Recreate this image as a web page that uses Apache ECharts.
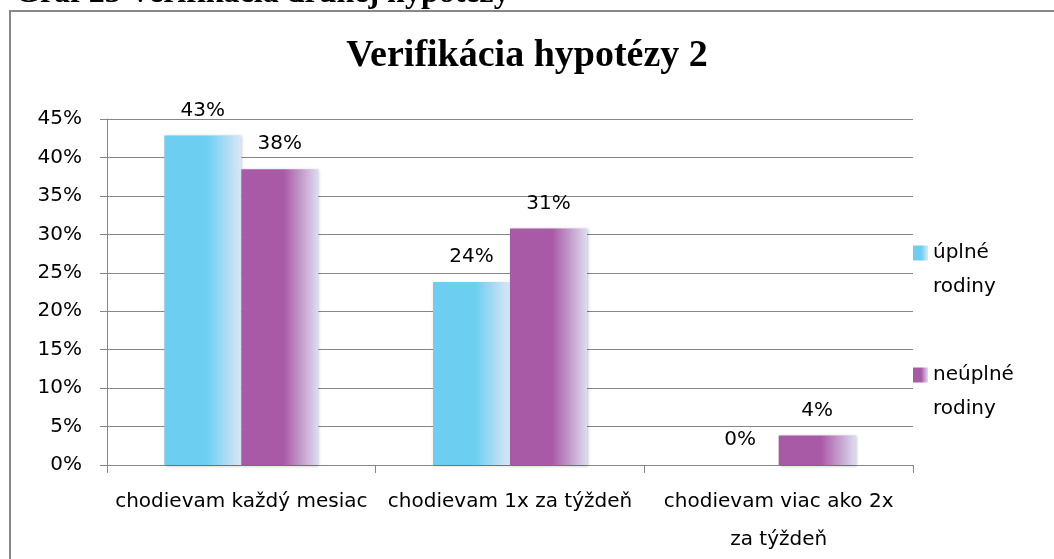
<!DOCTYPE html>
<html>
<head>
<meta charset="utf-8">
<script src="https://cdn.jsdelivr.net/npm/echarts@6/dist/echarts.min.js"></script>
<style>
html, body { margin: 0; padding: 0; background: #fff; }
#chart { width: 1054px; height: 559px; }
</style>
</head>
<body>
<div id="chart"></div>
<script>
var categories = ['chodievam každý mesiac', 'chodievam 1x za týždeň', 'chodievam viac ako 2x za týždeň'];
var seriesNames = ['úplné rodiny', 'neúplné rodiny'];
var fullFamilies = [42.86, 23.81, 0];
var singleFamilies = [38.46, 30.77, 3.85];
var yTicks = { min: 0, max: 45, step: 5 };

var labelFont = 'DejaVu Sans';
var gridColor = '#868686';

function fade(base, light) {
    return new echarts.graphic.LinearGradient(0, 0, 1, 0, [
        { offset: 0, color: base },
        { offset: 0.55, color: base },
        { offset: 1, color: light }
    ]);
}

function barSeries(name, values, base, light) {
    return {
        name: name,
        type: 'bar',
        data: values,
        barWidth: 77,
        barGap: '0%',
        itemStyle: {
            color: fade(base, light),
            shadowColor: 'rgba(0,0,0,0.25)',
            shadowBlur: 3,
            shadowOffsetX: 1,
            shadowOffsetY: 1
        },
        label: {
            show: true,
            position: 'top',
            distance: 15,
            color: '#000',
            fontFamily: labelFont,
            fontSize: 20,
            formatter: function (p) { return Math.round(p.value) + '%'; }
        }
    };
}

var chart = echarts.init(document.getElementById('chart'), null, { renderer: 'canvas' });
var option = {
    animation: false,
    backgroundColor: '#fff',
    graphic: [
        {
            type: 'text',
            left: 15,
            top: -22,
            style: {
                text: 'Graf 23 Verifikácia druhej hypotézy',
                font: 'bold 32px "Liberation Serif"',
                fill: '#000'
            }
        },
        {
            type: 'rect',
            shape: { x: 10, y: 11, width: 1100, height: 600 },
            style: { fill: 'none', stroke: '#888', lineWidth: 2 }
        }
    ],
    title: {
        text: 'Verifikácia hypotézy 2',
        left: 'center',
        top: 37,
        padding: 0,
        textStyle: {
            fontFamily: 'Liberation Serif',
            fontWeight: 'bold',
            fontSize: 38,
            color: '#000'
        }
    },
    legend: {
        orient: 'vertical',
        left: 913,
        top: 202,
        padding: 0,
        icon: 'rect',
        itemWidth: 15,
        itemHeight: 15,
        itemGap: 20,
        data: seriesNames,
        // blank first line keeps the marker level with the first word
        formatter: function (name) { return '\n' + name.replace(' ', '\n'); },
        textStyle: {
            fontFamily: labelFont,
            fontSize: 20,
            color: '#000',
            lineHeight: 34
        }
    },
    grid: {
        left: 107,
        right: 141,
        top: 119,
        bottom: 89,
        containLabel: false
    },
    xAxis: {
        type: 'category',
        data: categories,
        axisLine: { lineStyle: { color: gridColor, width: 1 } },
        axisTick: { show: true, length: 8, lineStyle: { color: gridColor } },
        axisLabel: {
            interval: 0,
            margin: 18,
            color: '#000',
            fontFamily: labelFont,
            fontSize: 20,
            lineHeight: 38,
            formatter: function (v) {
                return v.length > 24 ? v.replace(/ (za týždeň)$/, '\n$1') : v;
            }
        }
    },
    yAxis: {
        type: 'value',
        min: yTicks.min,
        max: yTicks.max,
        interval: yTicks.step,
        axisLine: { show: true, lineStyle: { color: gridColor, width: 1 } },
        axisTick: { show: true, length: 7, lineStyle: { color: gridColor } },
        splitLine: { show: true, lineStyle: { color: gridColor, width: 1 } },
        axisLabel: {
            margin: 25,
            color: '#000',
            fontFamily: labelFont,
            fontSize: 20,
            formatter: function (v) { return v + '%'; }
        }
    },
    series: [
        barSeries(seriesNames[0], fullFamilies, '#6CCFF1', '#DCE6F4'),
        barSeries(seriesNames[1], singleFamilies, '#A95AA7', '#DCDCEF')
    ]
};
chart.setOption(option);
</script>
</body>
</html>
